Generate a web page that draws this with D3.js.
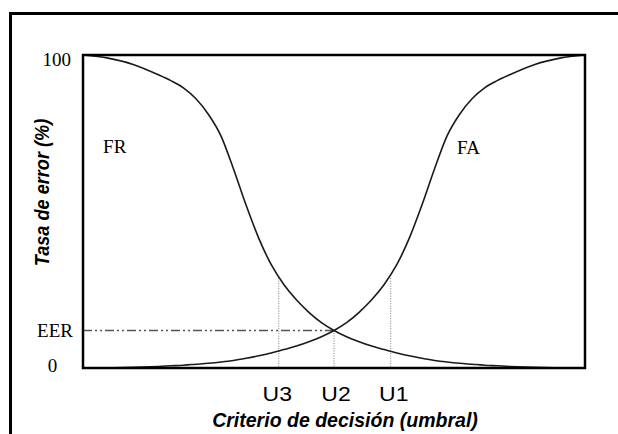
<!DOCTYPE html>
<html>
<head>
<meta charset="utf-8">
<script src="https://cdn.jsdelivr.net/npm/d3@7"></script>
<style>
  html, body { margin: 0; padding: 0; background: #fff; }
  svg { display: block; }
</style>
</head>
<body>
<div id="chart"></div>
<script>
// ---- data ----
const thresholdX = [0,5,10,15,17.5,20,22.5,25,27.5,30,32.5,35,37.5,40,42.5,45,47.5,50,52.5,55,57.5,60,62.5,65,67.5,70,72.5,75,77.5,80,82.5,85,90,95,100];
const frValues   = [100,99.0,97.0,93.7,91.8,89.5,86.0,81.0,74.1,63.5,52.0,41.5,33.0,26.7,21.8,17.8,14.5,12.0,10.0,8.4,7.0,5.9,4.8,3.9,3.1,2.4,1.9,1.5,1.2,0.9,0.7,0.5,0.2,0.05,0];
const faValues   = [0,0.05,0.2,0.5,0.7,0.9,1.2,1.5,1.9,2.4,3.1,3.9,4.8,5.9,7.0,8.4,10.0,12.0,14.5,17.8,21.8,26.7,33.0,41.5,52.0,63.5,74.1,81.0,86.0,89.5,91.8,93.7,97.0,99.0,100];
const curveLabels = ["FR", "FA"];
const uNames  = ["U3", "U2", "U1"];
const uValues = [39, 50, 61.3];
const uTops   = [28.7, 12.0, 28.7];
const eerValue = 12.0;
const yTickValues = [0, eerValue, 100];
const yTickLabels = ["0", "EER", "100"];
const xTitle = "Criterio de decisión (umbral)";
const yTitle = "Tasa de error (%)";

// ---- layout ----
const W = 618, H = 434;
const plot = { left: 83, right: 585, top: 55, bottom: 368 };

const svg = d3.select("#chart").append("svg")
  .attr("width", W).attr("height", H);

svg.append("rect").attr("width", W).attr("height", H).attr("fill", "#fff");

// outer frame (only top and left visible)
svg.append("rect")
  .attr("x", 10.5).attr("y", 13.5)
  .attr("width", W + 20).attr("height", H + 20)
  .attr("fill", "none").attr("stroke", "#000").attr("stroke-width", 3);

const x = d3.scaleLinear().domain([0, 100]).range([plot.left, plot.right]);
const y = d3.scaleLinear().domain([0, 100]).range([plot.bottom, plot.top]);

// EER dash-dot guide
svg.append("line")
  .attr("x1", x(0)).attr("x2", x(uValues[1]))
  .attr("y1", y(eerValue)).attr("y2", y(eerValue))
  .attr("stroke", "#555").attr("stroke-width", 1.6)
  .attr("stroke-dasharray", "9,3,2,3,2,3");

// vertical dotted guides
svg.selectAll("line.u").data(uValues).enter().append("line")
  .attr("class", "u")
  .attr("x1", d => x(d)).attr("x2", d => x(d))
  .attr("y1", (d, i) => y(uTops[i])).attr("y2", y(0))
  .attr("stroke", "#777").attr("stroke-width", 1)
  .attr("stroke-dasharray", "1,1.5");

// curves
const line = d3.line()
  .x((d, i) => x(thresholdX[i]))
  .y(d => y(d))
  .curve(d3.curveMonotoneX);

[frValues, faValues].forEach(vals => {
  svg.append("path")
    .attr("d", line(vals))
    .attr("fill", "none")
    .attr("stroke", "#1a1a1a")
    .attr("stroke-width", 1.6);
});

// plot frame
svg.append("rect")
  .attr("x", plot.left).attr("y", plot.top)
  .attr("width", plot.right - plot.left).attr("height", plot.bottom - plot.top)
  .attr("fill", "none").attr("stroke", "#000").attr("stroke-width", 2.5);

// y tick labels (serif)
const serif = "'Liberation Serif', 'Times New Roman', serif";
const yLab = svg.selectAll("text.ytick").data(yTickValues).enter().append("text")
  .attr("class", "ytick")
  .attr("font-family", serif)
  .attr("font-size", 19)
  .attr("fill", "#000")
  .text((d, i) => yTickLabels[i]);
yLab.each(function(d, i) {
  const t = d3.select(this);
  if (yTickLabels[i] === "0") {
    t.attr("x", 52.5).attr("y", y(d) + 4).attr("text-anchor", "middle");
  } else if (yTickLabels[i] === "EER") {
    t.attr("x", 73).attr("y", y(d) + 6.5).attr("text-anchor", "end");
  } else {
    t.attr("x", 71).attr("y", y(d) + 10.5).attr("text-anchor", "end");
  }
});

// curve labels
svg.append("text").attr("font-family", serif).attr("font-size", 19).attr("fill", "#000")
  .attr("x", x(4)).attr("y", y(68.8)).text(curveLabels[0]);
svg.append("text").attr("font-family", serif).attr("font-size", 19).attr("fill", "#000")
  .attr("x", x(74.5)).attr("y", y(68.5)).text(curveLabels[1]);

// U labels
const sans = "'Liberation Sans', Arial, sans-serif";
svg.selectAll("text.ulab").data(uValues).enter().append("text")
  .attr("class", "ulab")
  .attr("font-family", sans)
  .attr("font-size", 19.5)
  .attr("fill", "#000")
  .attr("text-anchor", "middle")
  .attr("transform", (d, i) => `translate(${x(d) - (i === 0 ? 1.5 : i === 2 ? -3 : -2)},401) scale(1.18,1)`)
  .text((d, i) => uNames[i]);

// axis titles
svg.append("text")
  .attr("font-family", sans).attr("font-weight", "bold").attr("font-style", "italic")
  .attr("font-size", 21).attr("fill", "#000")
  .attr("text-anchor", "middle")
  .attr("transform", "translate(345,427) scale(0.93,1)")
  .text(xTitle);

svg.append("text")
  .attr("font-family", sans).attr("font-weight", "bold").attr("font-style", "italic")
  .attr("font-size", 19.5).attr("fill", "#000")
  .attr("text-anchor", "middle")
  .attr("transform", "translate(49,192.5) rotate(-90) scale(0.93,1)")
  .text(yTitle);
</script>
</body>
</html>
